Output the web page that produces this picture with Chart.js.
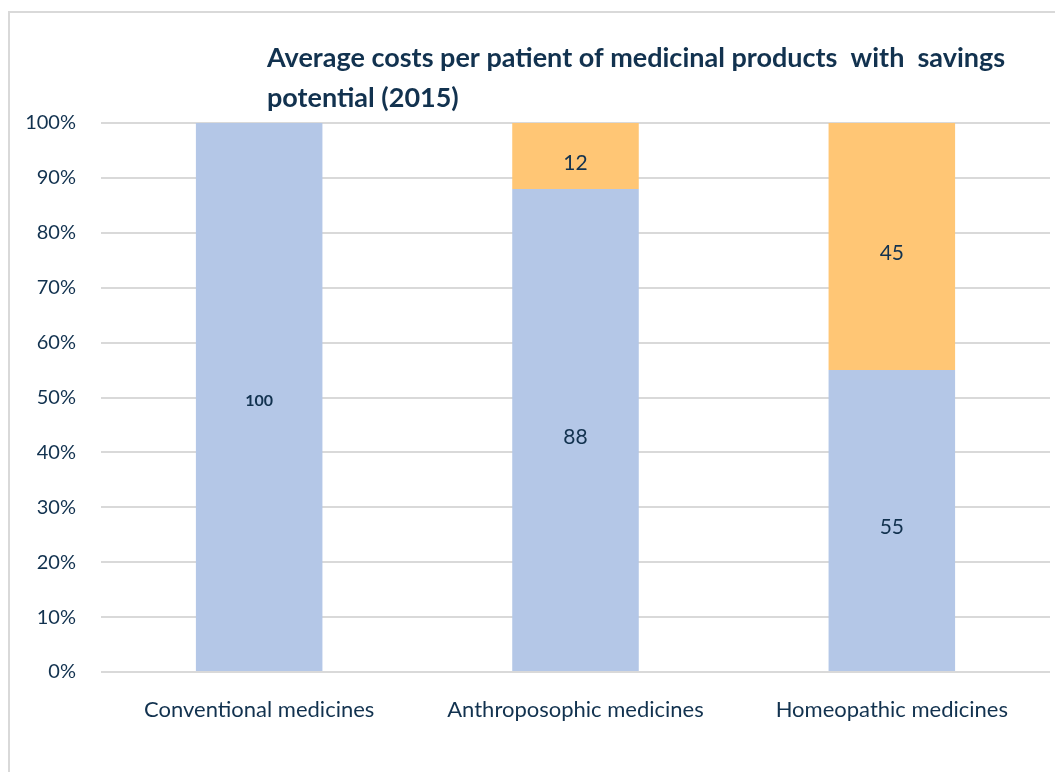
<!DOCTYPE html>
<html>
<head>
<meta charset="utf-8">
<script src="https://cdn.jsdelivr.net/npm/chart.js@4.4.1/dist/chart.umd.min.js"></script>
<style>
html,body{margin:0;padding:0;background:#fff;}
#wrap{position:relative;width:1055px;height:772px;overflow:hidden;}
#frame{position:absolute;left:8px;top:11px;width:1200px;height:900px;border-left:2px solid #d9d9d9;border-top:2px solid #d9d9d9;}
canvas{position:absolute;left:0;top:0;}
</style>
</head>
<body>
<div id="wrap">
<div id="frame"></div>
<canvas id="chart" width="1055" height="772"></canvas>
</div>
<script>
const categories=["Conventional medicines","Anthroposophic medicines","Homeopathic medicines"];
const baseValues=[100,88,55];
const savingsValues=[0,12,45];
const yTicks=[0,10,20,30,40,50,60,70,80,90,100];
const titleLines=["Average costs per patient of medicinal products  with  savings","potential (2015)"];

const TEXT="#12324f";

// label sizes per dataset / bar, as in the original
const labelSizes=[[16,21,21],[15,21,21]];

const titlePlugin={
id:"leftTitle",
afterDraw(chart){
const ctx=chart.ctx;
ctx.save();
ctx.fillStyle=TEXT;
ctx.font="bold 27px Lato";
ctx.textBaseline="middle";
ctx.textAlign="left";
titleLines.forEach((t,i)=>{
ctx.fillText(t,267,58+i*40);
});
ctx.restore();
}
};

const labelPlugin={
id:"barLabels",
afterDatasetsDraw(chart){
const ctx=chart.ctx;
ctx.save();
ctx.fillStyle=TEXT;
ctx.textAlign="center";
ctx.textBaseline="middle";
chart.data.datasets.forEach((ds,di)=>{
const meta=chart.getDatasetMeta(di);
meta.data.forEach((bar,i)=>{
const v=ds.data[i];
if(!v) return;
const size=labelSizes[di][i];
ctx.font=(size<18?"bold ":"")+size+"px Lato";
ctx.fillText(String(v),bar.x,(bar.y+bar.base)/2+(size<18?4:7));
});
});
ctx.restore();
}
};

new Chart(document.getElementById("chart"),{
type:"bar",
data:{
labels:categories,
datasets:[
{label:"Base",data:baseValues,backgroundColor:"#b4c7e7",categoryPercentage:1,barPercentage:0.4},
{label:"Savings potential",data:savingsValues,backgroundColor:"#ffc675",categoryPercentage:1,barPercentage:0.4}
]
},
options:{
responsive:false,
animation:false,
layout:{padding:{top:123,right:5,left:0,bottom:0}},
plugins:{legend:{display:false},tooltip:{enabled:false}},
scales:{
x:{
stacked:true,
grid:{display:false,drawTicks:false},
border:{display:false},
ticks:{color:TEXT,font:{family:"Lato",size:22},padding:25},
afterFit(s){s.height=100;}
},
y:{
stacked:true,
min:0,max:100,
afterBuildTicks(s){s.ticks=yTicks.map(v=>({value:v}));},
grid:{color:"#d9d9d9",lineWidth:2,drawTicks:false},
border:{display:false},
ticks:{color:TEXT,font:{family:"Lato",size:20},padding:25,callback:v=>v+"%"},
afterFit(s){s.width=101;}
}
}
},
plugins:[titlePlugin,labelPlugin]
});
</script>
</body>
</html>
